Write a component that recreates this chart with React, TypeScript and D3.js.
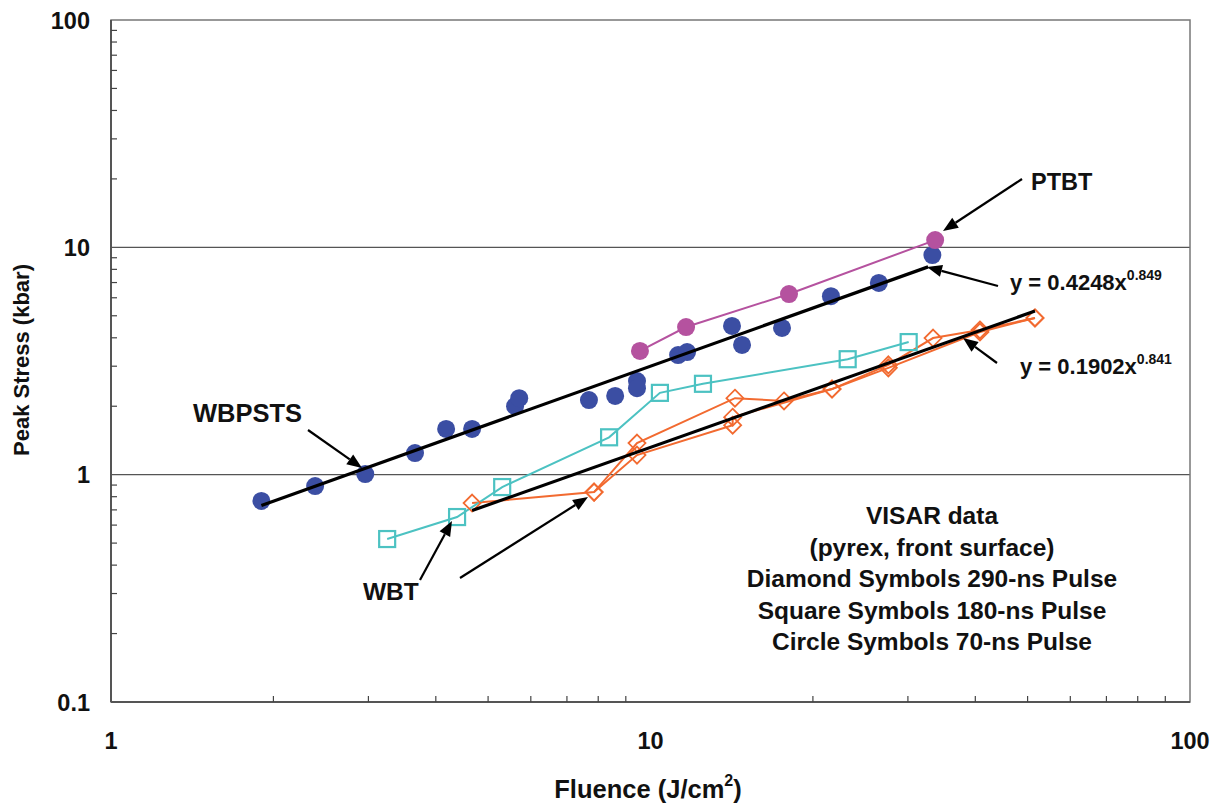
import React from "react";
import * as d3 from "d3";

// ---- data ----
const blueX = [1.9, 2.39, 2.96, 3.66, 4.18, 4.67, 5.61, 5.71, 7.69, 8.6, 9.44, 9.44, 11.25, 11.69, 14.16, 14.78, 17.53, 21.6, 26.5, 33.3];
const blueY = [0.766, 0.891, 1.006, 1.245, 1.59, 1.59, 2.0, 2.17, 2.13, 2.22, 2.58, 2.4, 3.36, 3.46, 4.51, 3.72, 4.42, 6.1, 6.97, 9.25];

const magentaX = [9.56, 11.64, 18.06, 33.7];
const magentaY = [3.5, 4.46, 6.23, 10.76];

const tealX = [3.25, 4.38, 5.31, 8.38, 10.41, 12.51, 23.2, 30.1];
const tealY = [0.521, 0.651, 0.882, 1.46, 2.29, 2.51, 3.22, 3.83];

const orangeAX = [4.67, 7.86, 9.44, 14.34, 17.68, 21.7, 27.6, 33.4, 40.8, 51.6];
const orangeAY = [0.75, 0.838, 1.377, 2.17, 2.11, 2.38, 3.04, 3.99, 4.33, 4.89];
const orangeBX = [7.86, 9.44, 14.2, 14.2, 21.7, 27.6, 40.8, 51.6];
const orangeBY = [0.838, 1.219, 1.65, 1.79, 2.38, 2.95, 4.24, 4.89];

// power-law fits y = a * x^b
const fitA = [0.4248, 0.1902];
const fitB = [0.849, 0.841];
const fitX0 = [1.9, 4.67];
const fitX1 = [32.7, 51.6];

const xTickLabels = [1, 10, 100];
const yTickLabels = [0.1, 1, 10, 100];

const visarLines = [
  "VISAR data",
  "(pyrex, front surface)",
  "Diamond Symbols 290-ns Pulse",
  "Square Symbols 180-ns Pulse",
  "Circle Symbols 70-ns Pulse",
];

const W = 1222;
const H = 803;
const FONT = "'Liberation Sans', Arial, Helvetica, sans-serif";

const BLUE = "#3b4ea3";
const MAGENTA = "#b5529f";
const TEAL = "#4cc2c2";
const ORANGE = "#f26a30";

function Arrow({ x1, y1, x2, y2 }: { x1: number; y1: number; x2: number; y2: number }) {
  const ang = Math.atan2(y2 - y1, x2 - x1);
  const L = 15;
  const hw = 6;
  const bx = x2 - L * Math.cos(ang);
  const by = y2 - L * Math.sin(ang);
  const px = -Math.sin(ang) * hw;
  const py = Math.cos(ang) * hw;
  return (
    <g>
      <line x1={x1} y1={y1} x2={bx} y2={by} stroke="#000" strokeWidth={2.2} />
      <polygon points={`${x2},${y2} ${bx + px},${by + py} ${bx - px},${by - py}`} fill="#000" />
    </g>
  );
}

export default function App() {
  const x = d3.scaleLog().domain([1, 100]).range([111, 1190]);
  const y = d3.scaleLog().domain([0.1, 100]).range([702, 20]);

  const line = d3
    .line<[number, number]>()
    .x((d) => x(d[0]))
    .y((d) => y(d[1]));

  const zip = (xs: number[], ys: number[]) => xs.map((v, i) => [v, ys[i]] as [number, number]);

  const blue = zip(blueX, blueY);
  const magenta = zip(magentaX, magentaY);
  const teal = zip(tealX, tealY);
  const orangeA = zip(orangeAX, orangeAY);
  const orangeB = zip(orangeBX, orangeBY);

  const minorX: number[] = [];
  for (const dec of [1, 10]) for (let k = 2; k <= 9; k++) minorX.push(dec * k);
  const minorY: number[] = [];
  for (const dec of [0.1, 1, 10]) for (let k = 2; k <= 9; k++) minorY.push(dec * k);

  const fits = fitA.map((a, i) => {
    const f = (v: number) => a * Math.pow(v, fitB[i]);
    return [
      [fitX0[i], f(fitX0[i])],
      [fitX1[i], f(fitX1[i])],
    ] as [number, number][];
  });

  const diamond = (cx: number, cy: number, r: number) =>
    `M${cx},${cy - r}L${cx + r},${cy}L${cx},${cy + r}L${cx - r},${cy}Z`;

  return (
    <svg
      width={W}
      height={H}
      style={{ position: "absolute", left: 0, top: 0, background: "#fff" }}
      fontFamily={FONT}
    >
      <rect x={0} y={0} width={W} height={H} fill="#fff" />
      {/* gridlines */}
      {[1, 10].map((v) => (
        <line key={v} x1={x(1)} x2={x(100)} y1={y(v)} y2={y(v)} stroke="#555" strokeWidth={1.3} />
      ))}
      {/* frame */}
      <rect x={x(1)} y={y(100)} width={x(100) - x(1)} height={y(0.1) - y(100)} fill="none" stroke="#777" strokeWidth={1.5} />
      <line x1={x(1)} x2={x(1)} y1={y(100)} y2={y(0.1)} stroke="#555" strokeWidth={2} />
      <line x1={x(1)} x2={x(100)} y1={y(0.1)} y2={y(0.1)} stroke="#555" strokeWidth={2} />
      {/* minor ticks */}
      {minorX.map((v) => (
        <line key={"mx" + v} x1={x(v)} x2={x(v)} y1={y(0.1)} y2={y(0.1) - 6} stroke="#444" strokeWidth={1.2} />
      ))}
      {minorY.map((v) => (
        <line key={"my" + v} x1={x(1)} x2={x(1) + 6} y1={y(v)} y2={y(v)} stroke="#444" strokeWidth={1.2} />
      ))}
      {/* tick labels */}
      {yTickLabels.map((v) => (
        <text key={"yl" + v} x={90} y={y(v) + 8.5} textAnchor="end" fontSize={23.5} fontWeight="bold" fill="#111">
          {String(v)}
        </text>
      ))}
      {xTickLabels.map((v) => (
        <text key={"xl" + v} x={x(v)} y={749} textAnchor="middle" fontSize={23.5} fontWeight="bold" fill="#111">
          {String(v)}
        </text>
      ))}
      {/* axis titles */}
      <text x={648} y={798} textAnchor="middle" fontSize={25.5} fontWeight="bold" fill="#111">
        Fluence (J/cm
        <tspan fontSize={16} dy={-12}>2</tspan>
        <tspan dy={12}>)</tspan>
      </text>
      <text
        transform={`translate(29,360) rotate(-90)`}
        textAnchor="middle"
        fontSize={22}
        fontWeight="bold"
        fill="#111"
      >
        Peak Stress (kbar)
      </text>

      {/* series lines */}
      <path d={line(orangeA) || ""} fill="none" stroke={ORANGE} strokeWidth={2} />
      <path d={line(orangeB) || ""} fill="none" stroke={ORANGE} strokeWidth={2} />
      <path d={line(teal) || ""} fill="none" stroke={TEAL} strokeWidth={2} />
      <path d={line(magenta) || ""} fill="none" stroke={MAGENTA} strokeWidth={2} />

      {/* markers */}
      {[...orangeA, ...orangeB].map((d, i) => (
        <path key={"o" + i} d={diamond(x(d[0]), y(d[1]), 8.5)} fill="none" stroke={ORANGE} strokeWidth={1.8} />
      ))}
      {teal.map((d, i) => (
        <rect key={"t" + i} x={x(d[0]) - 8} y={y(d[1]) - 8} width={16} height={16} fill="none" stroke={TEAL} strokeWidth={2.2} />
      ))}
      {blue.map((d, i) => (
        <circle key={"b" + i} cx={x(d[0])} cy={y(d[1])} r={9} fill={BLUE} />
      ))}
      {magenta.map((d, i) => (
        <circle key={"m" + i} cx={x(d[0])} cy={y(d[1])} r={9} fill={MAGENTA} />
      ))}

      {/* fits */}
      {fits.map((f, i) => (
        <path key={"f" + i} d={line(f) || ""} fill="none" stroke="#000" strokeWidth={3.2} />
      ))}

      {/* annotations */}
      <Arrow x1={1022} y1={179} x2={943} y2={231} />
      <Arrow x1={998} y1={286} x2={927} y2={267} />
      <Arrow x1={997} y1={363} x2={963} y2={338} />
      <Arrow x1={308} y1={430} x2={362} y2={468} />
      <Arrow x1={420} y1={580} x2={452} y2={521} />
      <Arrow x1={460} y1={578} x2={588} y2={497} />

      <text x={1031} y={190} fontSize={23.5} fontWeight="bold" fill="#111">PTBT</text>
      <text x={193} y={422} fontSize={25.5} fontWeight="bold" fill="#111">WBPSTS</text>
      <text x={363} y={600} fontSize={24.5} fontWeight="bold" fill="#111">WBT</text>

      <text x={1010} y={290} fontSize={22} fontWeight="bold" fill="#111">
        y = 0.4248x
        <tspan fontSize={14} dy={-10}>0.849</tspan>
      </text>
      <text x={1020} y={374} fontSize={22} fontWeight="bold" fill="#111">
        y = 0.1902x
        <tspan fontSize={14} dy={-10}>0.841</tspan>
      </text>

      {visarLines.map((s, i) => (
        <text key={"v" + i} x={932} y={524 + i * 31.5} textAnchor="middle" fontSize={24.5} fontWeight="bold" fill="#111">
          {s}
        </text>
      ))}
    </svg>
  );
}
